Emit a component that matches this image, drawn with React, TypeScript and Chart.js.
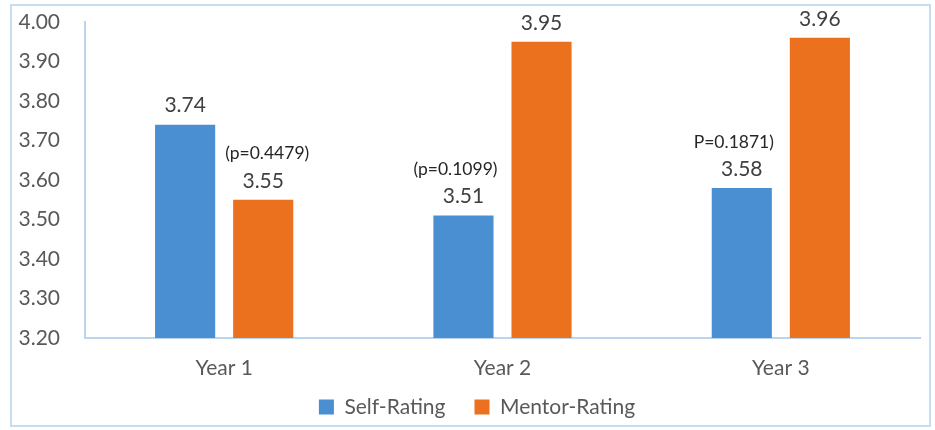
import React, { useEffect, useRef } from "react";
import { Chart, registerables } from "chart.js";

Chart.register(...registerables);

// ---- data ----
const categories = ["Year 1", "Year 2", "Year 3"];
const selfRating = [3.74, 3.51, 3.58];
const mentorRating = [3.55, 3.95, 3.96];
const pValueLabels = ["(p=0.4479)", "(p=0.1099)", "P=0.1871)"];
const pValueSeries = [1, 0, 0]; // which series' bar the p-note sits above
const yMin = 3.2;
const yMax = 4.0;
const yStep = 0.1;

// ---- styles ----
const FONT = "Lato, 'Open Sans', sans-serif";
const BLUE = "#4a8fd1";
const ORANGE = "#eb711f";
const AXIS = "#bcd4ee";
const TEXT = "#595959";
const pNoteDx = [4, -8, -8];

const annotate = {
  id: "annotate",
  afterLayout(chart: any) {
    // widen label clip areas so tick labels are not cut off
    if (chart.scales.y) chart.scales.y.left = 0;
    if (chart.scales.x) chart.scales.x.bottom = chart.height;
  },
  afterDatasetsDraw(chart: any) {
    const ctx = chart.ctx as CanvasRenderingContext2D;
    ctx.save();
    ctx.textAlign = "center";
    ctx.textBaseline = "middle";
    ctx.fillStyle = "#404040";
    ctx.font = `21px ${FONT}`;
    chart.data.datasets.forEach((ds: any, di: number) => {
      const meta = chart.getDatasetMeta(di);
      meta.data.forEach((bar: any, i: number) => {
        ctx.fillText(Number(ds.data[i]).toFixed(2), bar.x, bar.y - 19);
      });
    });
    ctx.font = `17.5px ${FONT}`;
    ctx.fillStyle = "#262626";
    pValueLabels.forEach((txt, i) => {
      const bar = chart.getDatasetMeta(pValueSeries[i]).data[i];
      ctx.fillText(txt, bar.x + pNoteDx[i], bar.y - 46);
    });
    ctx.restore();
  },
};

export default function App() {
  const ref = useRef<HTMLCanvasElement>(null);

  useEffect(() => {
    const chart = new Chart(ref.current!, {
      type: "bar",
      data: {
        labels: categories,
        datasets: [
          {
            label: "Self-Rating",
            data: selfRating,
            backgroundColor: BLUE,
            categoryPercentage: 0.561,
            barPercentage: 0.77,
          },
          {
            label: "Mentor-Rating",
            data: mentorRating,
            backgroundColor: ORANGE,
            categoryPercentage: 0.561,
            barPercentage: 0.77,
          },
        ],
      },
      options: {
        responsive: false,
        animation: false,
        devicePixelRatio: 1,
        layout: { padding: { left: 34, right: 15, top: 22, bottom: 2.5 } },
        plugins: {
          tooltip: { enabled: false },
          legend: {
            position: "bottom",
            labels: {
              boxWidth: 15,
              boxHeight: 15,
              padding: 29,
              color: TEXT,
              font: { family: FONT, size: 21 },
            },
          },
        },
        scales: {
          x: {
            grid: { display: false, drawTicks: false },
            border: { display: true, color: AXIS, width: 2 },
            ticks: {
              color: TEXT,
              padding: 18,
              font: { family: FONT, size: 21 },
            },
            afterFit(scale: any) {
              scale.height = 29.5;
            },
          },
          y: {
            min: yMin,
            max: yMax,
            grid: { display: false, drawTicks: false },
            border: { display: true, color: AXIS, width: 2 },
            ticks: {
              stepSize: yStep,
              color: TEXT,
              padding: 25,
              font: { family: FONT, size: 21 },
              callback: (v: any) => Number(v).toFixed(2),
            },
            afterFit(scale: any) {
              scale.width = 51;
              scale.paddingTop = 0;
              scale.paddingBottom = 0;
            },
          },
        },
      },
      plugins: [annotate],
    });
    return () => chart.destroy();
  }, []);

  return (
    <div
      style={{
        position: "fixed",
        left: 0,
        top: 0,
        width: 935,
        height: 430,
        background: "#fff",
      }}
    >
      <div
        style={{
          position: "absolute",
          left: 10,
          top: 4,
          width: 921,
          height: 423,
          border: "2px solid #c8dcf0",
          boxSizing: "border-box",
        }}
      />
      <canvas
        ref={ref}
        width={935}
        height={430}
        style={{ position: "absolute", left: 0, top: 0 }}
      />
    </div>
  );
}
